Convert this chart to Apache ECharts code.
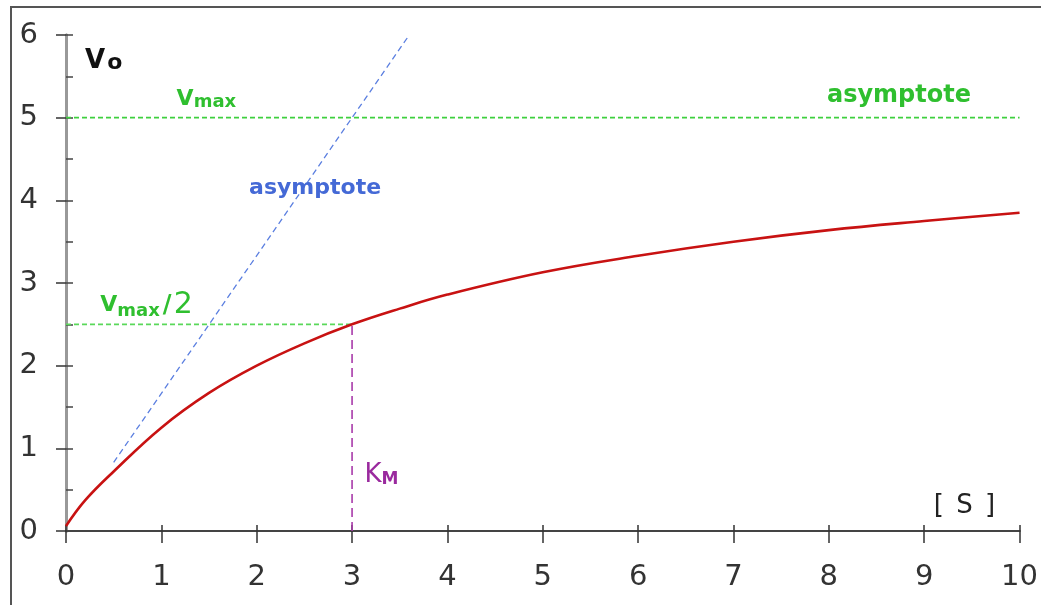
<!DOCTYPE html>
<html>
<head>
<meta charset="utf-8">
<script src="https://cdn.jsdelivr.net/npm/echarts@6/dist/echarts.min.js"></script>
<style>
  html, body { margin: 0; padding: 0; background: #fff; }
  #chart { width: 1041px; height: 605px; }
</style>
</head>
<body>
<div id="chart"></div>
<script>
// Michaelis–Menten saturation curve: initial velocity v0 against substrate [S]
const substrate = [0, 0.2, 0.5, 1, 1.5, 2, 2.5, 3, 3.5, 4, 5, 6, 7, 8, 9, 10];
const velocity  = [0.06, 0.37, 0.72, 1.25, 1.67, 2.0, 2.27, 2.5, 2.69, 2.86, 3.13, 3.33, 3.5, 3.64, 3.75, 3.85];

const vMax = 5;
const halfVMax = 2.5;
const kM = 3;
const xTicks = [0, 1, 2, 3, 4, 5, 6, 7, 8, 9, 10];
const yTicks = [0, 1, 2, 3, 4, 5, 6];

// initial-slope asymptote (dashed blue)
const slopeX = [0.5, 3.6];
const slopeY = [0.83, 6];

// annotation anchors: [S, v, key]  (left edge, vertical centre)
const notes = [
  [0.2, 5.68, 'v0'],
  [1.16, 5.22, 'vmax'],
  [7.98, 5.27, 'asymGreen'],
  [1.92, 4.15, 'asymBlue'],
  [0.36, 2.73, 'half'],
  [3.13, 0.68, 'km'],
  [9.1, 0.3, 'conc']
];

const FONT = 'DejaVu Sans';
const GREEN = '#2fbf2f';
const GREEN_LINE = '#3fd03f';
const BLUE = '#4469d6';
const PURPLE = '#9a2a9e';
const RED = '#c81212';

const noteText = {
  v0: '{v|V}{sub|o}',
  vmax: '{gv|V}{gsub|max}',
  asymGreen: '{g|asymptote}',
  asymBlue: '{b|asymptote}',
  half: '{gv|V}{gsub|max}{gslash|/}{gbig|2}',
  km: '{k|K}{ksub|M}',
  conc: '{c|[ }{cs|S}{c| ]}'
};

const rich = {
  v:      { fontFamily: FONT, fontSize: 26, fontWeight: 'bold', color: '#111' },
  sub:    { fontFamily: FONT, fontSize: 22, fontWeight: 'bold', color: '#111', verticalAlign: 'bottom', padding: [0, 0, 0, 2] },
  gv:     { fontFamily: FONT, fontSize: 22, fontWeight: 'bold', color: GREEN },
  gsub:   { fontFamily: FONT, fontSize: 18, fontWeight: 'bold', color: GREEN, verticalAlign: 'bottom', padding: [6, 0, 0, 0] },
  gslash: { fontFamily: FONT, fontSize: 24, fontWeight: 'bold', color: GREEN, padding: [0, 2, 0, 3] },
  gbig:   { fontFamily: FONT, fontSize: 30, color: GREEN },
  g:      { fontFamily: FONT, fontSize: 24, fontWeight: 'bold', color: GREEN },
  b:      { fontFamily: FONT, fontSize: 22, fontWeight: 'bold', color: BLUE },
  k:      { fontFamily: FONT, fontSize: 26, color: PURPLE },
  ksub:   { fontFamily: FONT, fontSize: 17, fontWeight: 'bold', color: PURPLE, verticalAlign: 'bottom', padding: [6, 0, 0, 0] },
  c:      { fontFamily: FONT, fontSize: 26, color: '#222' },
  cs:     { fontFamily: FONT, fontSize: 26, color: '#222', padding: [0, 4, 0, 4] }
};

const chart = echarts.init(document.getElementById('chart'), null, { renderer: 'canvas' });

const baseX = { type: 'value', min: xTicks[0], max: xTicks[xTicks.length - 1], interval: 1, splitLine: { show: false } };
const baseY = { type: 'value', min: yTicks[0], max: yTicks[yTicks.length - 1], interval: 1, splitLine: { show: false } };

chart.setOption({
  animation: false,
  backgroundColor: '#fff',
  grid: { left: 66, right: 19, top: 35, bottom: 74, containLabel: false },
  xAxis: [
    Object.assign({}, baseX, {
      position: 'bottom',
      axisLine: { lineStyle: { color: '#222', width: 2 } },
      axisTick: { length: 12, lineStyle: { color: '#333', width: 1.5 } },
      axisLabel: { fontFamily: FONT, fontSize: 29, color: '#333', margin: 32 }
    }),
    Object.assign({}, baseX, {
      position: 'bottom',
      axisLine: { show: false },
      axisTick: { inside: true, length: 6, lineStyle: { color: '#333', width: 1.5 } },
      axisLabel: { show: false }
    }),
    Object.assign({}, baseX, {
      position: 'top',
      axisLine: { lineStyle: { color: '#444', width: 2 } },
      axisTick: { show: false },
      axisLabel: { show: false }
    })
  ],
  yAxis: [
    Object.assign({}, baseY, {
      position: 'left',
      axisLine: { lineStyle: { color: '#999', width: 3 } },
      axisTick: { length: 10, lineStyle: { color: '#333', width: 1.5 } },
      axisLabel: { fontFamily: FONT, fontSize: 29, color: '#333', margin: 28 }
    }),
    Object.assign({}, baseY, {
      position: 'left',
      interval: 0.5,
      axisLine: { show: false },
      axisTick: { inside: true, length: 7, lineStyle: { color: '#444', width: 1.5 } },
      axisLabel: { show: false }
    }),
    Object.assign({}, baseY, {
      position: 'right',
      axisLine: { lineStyle: { color: '#999', width: 3 } },
      axisTick: { show: false },
      axisLabel: { show: false }
    })
  ],
  graphic: [
    {
      type: 'rect',
      shape: { x: 11, y: 7, width: 1100, height: 700 },
      style: { fill: 'none', stroke: '#555', lineWidth: 2 },
      silent: true
    }
  ],
  series: [
    {
      name: 'vmax',
      type: 'line',
      symbol: 'none',
      data: [[xTicks[0], vMax], [xTicks[xTicks.length - 1], vMax]],
      lineStyle: { color: GREEN_LINE, width: 1.6, type: [5, 3] }
    },
    {
      name: 'half vmax',
      type: 'line',
      symbol: 'none',
      data: [[xTicks[0], halfVMax], [kM, halfVMax]],
      lineStyle: { color: '#5ad85a', width: 1.6, type: [5, 3] }
    },
    {
      name: 'initial slope',
      type: 'line',
      symbol: 'none',
      data: slopeX.map((s, i) => [s, slopeY[i]]),
      lineStyle: { color: '#5b7fe0', width: 1.3, type: [6, 4] }
    },
    {
      name: 'KM',
      type: 'line',
      symbol: 'none',
      data: [[kM, 0], [kM, halfVMax]],
      lineStyle: { color: '#a83aaa', width: 1.6, type: [9, 5] }
    },
    {
      name: 'v0',
      type: 'line',
      symbol: 'none',
      smooth: 0.4,
      data: substrate.map((s, i) => [s, velocity[i]]),
      lineStyle: { color: RED, width: 2.6 },
      z: 5
    },
    {
      name: 'notes',
      type: 'scatter',
      symbolSize: 0,
      silent: true,
      itemStyle: { opacity: 1 },
      data: notes.map(n => ({ value: [n[0], n[1]], key: n[2] })),
      label: {
        show: true,
        opacity: 1,
        position: 'right',
        distance: 0,
        formatter: p => noteText[p.data.key],
        rich: rich
      },
      z: 6
    }
  ]
});
</script>
</body>
</html>
